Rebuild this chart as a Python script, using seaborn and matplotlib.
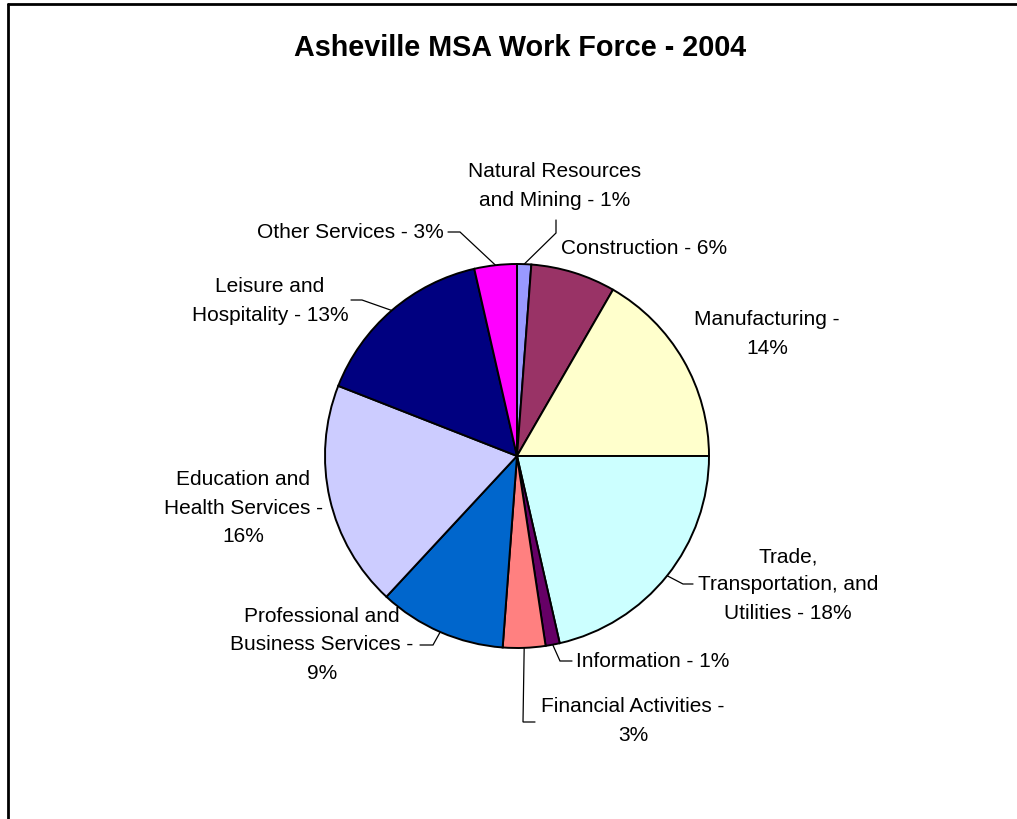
import numpy as np
import matplotlib
matplotlib.use("Agg")
import matplotlib.pyplot as plt
import seaborn as sns

# Asheville MSA employment shares by industry, 2004 (percent of work force)
sectors = [
    "Natural Resources\nand Mining",
    "Construction",
    "Manufacturing",
    "Trade,\nTransportation, and\nUtilities",
    "Information",
    "Financial Activities",
    "Professional and\nBusiness Services",
    "Education and\nHealth Services",
    "Leisure and\nHospitality",
    "Other Services",
]
shares = [1, 6, 14, 18, 1, 3, 9, 16, 13, 3]
label_texts = [
    "Natural Resources\nand Mining - 1%",
    "Construction - 6%",
    "Manufacturing -\n14%",
    "Trade,\nTransportation, and\nUtilities - 18%",
    "Information - 1%",
    "Financial Activities -\n3%",
    "Professional and\nBusiness Services -\n9%",
    "Education and\nHealth Services -\n16%",
    "Leisure and\nHospitality - 13%",
    "Other Services - 3%",
]
slice_colors = ["#9999FF", "#993366", "#FFFFCC", "#CCFFFF", "#660066",
                "#FF8080", "#0066CC", "#CCCCFF", "#000080", "#FF00FF"]

sns.set_theme(style="white")
plt.rcParams["font.family"] = ["Liberation Sans", "DejaVu Sans"]

W, H = 1017, 820
fig = plt.figure(figsize=(W / 100, H / 100), dpi=100)
ax = fig.add_axes([0, 0, 1, 1])

# pie geometry (pixel space, y grows downward)
cx, cy, R = 517, 457, 192

# y axis is inverted, so counterclock=True draws clockwise on screen
wedges, _ = ax.pie(
    shares, colors=slice_colors, startangle=-90, counterclock=True,
    center=(cx, cy), radius=R, frame=True,
    wedgeprops=dict(edgecolor="black", linewidth=1.4),
)
ax.set_xlim(0, W)
ax.set_ylim(H, 0)
ax.set_aspect("equal")
ax.set_axis_off()

def edge_point(w):
    mid = np.deg2rad((w.theta1 + w.theta2) / 2)
    return cx + R * np.cos(mid), cy + R * np.sin(mid)

fs = 15
# label placement: (x, y), leader bend, leader end
layout = {
    0: ((555, 186), (556, 234), (556, 221)),
    1: ((644, 248), None, None),
    2: ((767, 334), None, None),
    3: ((788, 585), (683, 585), (693, 585)),
    4: ((576, 662), (560, 662), (572, 662)),
    5: ((633, 721), (523, 723), (535, 723)),
    6: ((322, 645), (433, 646), (420, 646)),
    7: ((243, 508), None, None),
    8: ((270, 301), (362, 301), (351, 301)),
    9: ((350, 233), (460, 233), (448, 233)),
}

for i, w in enumerate(wedges):
    (lx, ly), bend, end = layout[i]
    ha = "left" if i == 4 else "center"
    ax.text(lx, ly, label_texts[i], ha=ha, va="center", fontsize=fs,
            color="black", linespacing=1.62)
    if bend is not None:
        sx, sy = edge_point(w)
        ax.plot([sx, bend[0], end[0]], [sy, bend[1], end[1]],
                color="black", linewidth=0.9, solid_joinstyle="miter")

ax.text(520, 48, "Asheville MSA Work Force - 2004", ha="center", va="center",
        fontsize=20.7, fontweight="bold", color="black")

# chart area border (top and left edges)
ax.plot([8, W], [4.5, 4.5], color="black", linewidth=2.0, clip_on=False)
ax.plot([8, 8], [4.5, H], color="black", linewidth=2.0, clip_on=False)

fig.savefig("out.png", dpi=100)
